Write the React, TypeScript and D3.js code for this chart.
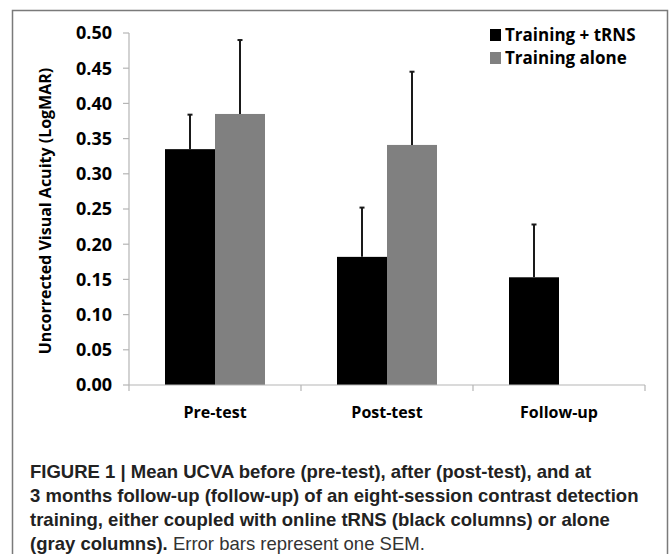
import React from "react";
import * as d3 from "d3";

const categories = ["Pre-test", "Post-test", "Follow-up"];
const series = ["Training + tRNS", "Training alone"];
const tRNSMeans = [0.335, 0.182, 0.153];
const tRNSErrors = [0.049, 0.07, 0.075];
const aloneMeans = [0.385, 0.341, 0];
const aloneErrors = [0.105, 0.104, 0];
const yTicks = [0, 0.05, 0.1, 0.15, 0.2, 0.25, 0.3, 0.35, 0.4, 0.45, 0.5];
const colors = ["#000000", "#808080"];

const captionLines: { bold: string; normal?: string }[] = [
  { bold: "FIGURE 1 | Mean UCVA before (pre-test), after (post-test), and at" },
  { bold: "3 months follow-up (follow-up) of an eight-session contrast detection" },
  { bold: "training, either coupled with online tRNS (black columns) or alone" },
  { bold: "(gray columns).", normal: " Error bars represent one SEM." },
];

export default function App() {
  const W = 671;
  const H = 554;
  const left = 129;
  const right = 645;
  const top = 33;
  const bottom = 385;

  const x = d3.scaleBand().domain(categories).range([left, right]).paddingInner(0).paddingOuter(0);
  const xs = d3.scaleBand().domain(series).range([0, 100]).padding(0);
  const xOff = (x.bandwidth() - 100) / 2;
  const y = d3.scaleLinear().domain([0, 0.5]).range([bottom, top]);

  const seriesData = [
    { name: series[0], means: tRNSMeans, errs: tRNSErrors, color: colors[0] },
    { name: series[1], means: aloneMeans, errs: aloneErrors, color: colors[1] },
  ];

  const font = "'Open Sans', 'DejaVu Sans', sans-serif";
  const capFont = "'Liberation Sans Narrow', 'Liberation Sans', sans-serif";

  return (
    <svg width={W} height={H} style={{ position: "absolute", left: 0, top: 0, background: "#fff" }}>
      {/* frame */}
      <path d={`M12.5,${H} L12.5,10.5 L667.5,10.5 L667.5,${H}`} fill="none" stroke="#7a7a7a" strokeWidth={1.5} />

      {/* y axis */}
      <line x1={left} x2={left} y1={top} y2={bottom} stroke="#b5b5b5" strokeWidth={1.2} />
      {yTicks.map((t) => (
        <g key={t}>
          <line x1={left - 6} x2={left} y1={y(t)} y2={y(t)} stroke="#b5b5b5" strokeWidth={1.2} />
          <text x={112} y={y(t)} dy="0.35em" textAnchor="end" fontFamily={font} fontWeight={700} fontSize={18} fill="#000">
            {t.toFixed(2)}
          </text>
        </g>
      ))}
      <text
        transform={`translate(51,${(top + bottom) / 2 + 2}) rotate(-90)`}
        textAnchor="middle"
        fontFamily={font}
        fontWeight={700}
        fontSize={16}
        fill="#000"
      >
        Uncorrected Visual Acuity (LogMAR)
      </text>

      {/* bars */}
      {seriesData.map((s) =>
        categories.map((c, i) => {
          const bx = (x(c) as number) + xOff + (xs(s.name) as number);
          const v = s.means[i];
          if (v <= 0) return null;
          return (
            <rect key={s.name + c} x={bx} y={y(v)} width={xs.bandwidth()} height={bottom - y(v)} fill={s.color} />
          );
        })
      )}
      {/* error bars */}
      {seriesData.map((s) =>
        categories.map((c, i) => {
          const v = s.means[i];
          if (v <= 0) return null;
          const cx = (x(c) as number) + xOff + (xs(s.name) as number) + xs.bandwidth() / 2;
          const y1 = y(v);
          const y2 = y(v + s.errs[i]);
          return (
            <g key={"e" + s.name + c}>
              <line x1={cx} x2={cx} y1={y1} y2={y2} stroke="#1a1a1a" strokeWidth={2} />
              <line x1={cx - 2.5} x2={cx + 2.5} y1={y2} y2={y2} stroke="#1a1a1a" strokeWidth={2} />
            </g>
          );
        })
      )}

      {/* x axis */}
      <line x1={left} x2={right} y1={bottom} y2={bottom} stroke="#b5b5b5" strokeWidth={1.2} />
      {[...categories.map((c) => x(c) as number), right].map((px, i) => (
        <line key={i} x1={px} x2={px} y1={bottom} y2={bottom + 6} stroke="#b5b5b5" strokeWidth={1.2} />
      ))}
      {categories.map((c) => (
        <text
          key={c}
          x={(x(c) as number) + x.bandwidth() / 2}
          y={418}
          textAnchor="middle"
          fontFamily={font}
          fontWeight={700}
          fontSize={16}
          fill="#000"
        >
          {c}
        </text>
      ))}

      {/* legend */}
      {series.map((s, i) => (
        <g key={s} transform={`translate(490,${35 + i * 23})`}>
          <rect x={0} y={-6} width={11} height={12} fill={colors[i]} />
          <text x={15} y={0} dy="0.35em" fontFamily={font} fontWeight={700} fontSize={17} fill="#000">
            {s}
          </text>
        </g>
      ))}

      {/* caption */}
      {captionLines.map((l, i) => (
        <text key={i} x={30} y={478 + i * 24} fontFamily={capFont} fontSize={18.5} fill="#222">
          <tspan fontWeight={700}>{l.bold}</tspan>
          {l.normal ? <tspan fontWeight={400} fill="#333">{l.normal}</tspan> : null}
        </text>
      ))}
    </svg>
  );
}
